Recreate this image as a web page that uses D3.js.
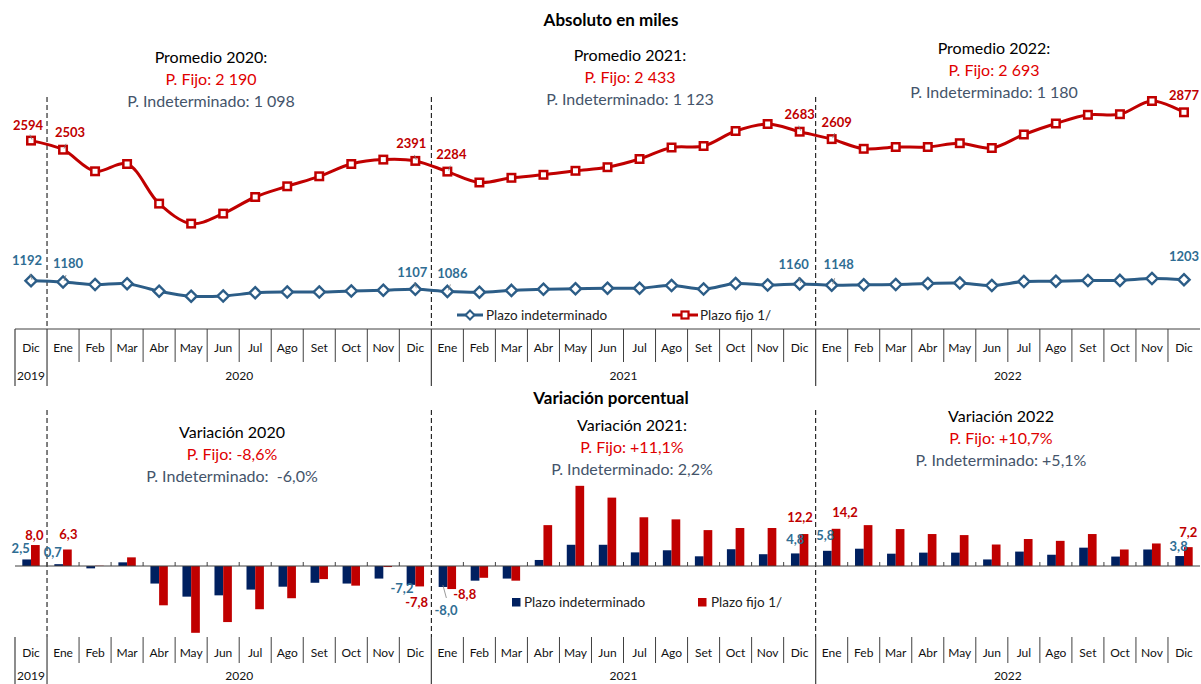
<!DOCTYPE html>
<html><head><meta charset="utf-8">
<script src="https://cdn.jsdelivr.net/npm/d3@7"></script>
<style>
html,body{margin:0;padding:0;background:#fff;}
svg{display:block;font-family:Lato,"Open Sans",sans-serif;}
</style></head>
<body>
<script>
// ---------- DATA ----------
const monthNames = ["Dic","Ene","Feb","Mar","Abr","May","Jun","Jul","Ago","Set","Oct","Nov","Dic","Ene","Feb","Mar","Abr","May","Jun","Jul","Ago","Set","Oct","Nov","Dic","Ene","Feb","Mar","Abr","May","Jun","Jul","Ago","Set","Oct","Nov","Dic"];
const yearLabels = ["2019","2020","2021","2022"];
const yearMonthCounts = [1,12,12,12];
const plazoFijo = [2594,2503,2287,2360,1964,1764,1864,2030,2137,2237,2360,2404,2391,2284,2175,2222,2252,2292,2328,2410,2525,2540,2690,2760,2683,2609,2512,2530,2530,2568,2520,2655,2765,2852,2858,2990,2877];
const plazoIndet = [1192,1180,1155,1163,1088,1038,1040,1072,1080,1080,1090,1098,1107,1086,1078,1096,1108,1112,1118,1118,1145,1110,1165,1150,1160,1148,1152,1155,1165,1170,1145,1185,1188,1195,1196,1215,1203];
const varIndet = [2.5,0.7,-0.9,1.4,-6.7,-11.7,-11.2,-9.0,-7.9,-6.4,-6.7,-4.8,-7.2,-8.0,-5.6,-4.8,2.3,8.1,8.1,5.2,6.0,3.7,6.4,4.5,4.8,5.8,6.6,4.7,5.1,5.1,2.5,5.5,4.3,7.0,3.6,6.3,3.8];
const varFijo = [8.0,6.3,0.1,3.3,-15.0,-25.5,-21.4,-16.5,-12.3,-5.0,-7.5,-0.4,-7.8,-8.8,-4.5,-5.6,15.6,30.6,26.1,18.6,17.8,13.7,14.5,14.5,12.2,14.2,15.6,14.1,12.2,11.8,8.2,10.3,9.6,12.2,6.3,8.6,7.2];
const labeledIdx = [0,1,12,13,24,25,36];
const topTitle = "Absoluto en miles";
const bottomTitle = "Variación porcentual";
const promedioTitles = ["Promedio 2020:","Promedio 2021:","Promedio 2022:"];
const promedioFijo = ["P. Fijo: 2 190","P. Fijo: 2 433","P. Fijo: 2 693"];
const promedioIndet = ["P. Indeterminado: 1 098","P. Indeterminado: 1 123","P. Indeterminado: 1 180"];
const variacionTitles = ["Variación 2020","Variación 2021:","Variación 2022"];
const variacionFijo = ["P. Fijo: -8,6%","P. Fijo: +11,1%","P. Fijo: +10,7%"];
const variacionIndet = ["P. Indeterminado:  -6,0%","P. Indeterminado: 2,2%","P. Indeterminado: +5,1%"];
const seriesNames = ["Plazo indeterminado","Plazo fijo 1/"];

// ---------- STYLE ----------
const RED="#C00000", BLUE_LINE="#2C5D87", NAVY="#002060", BLUE_LBL="#2F6D93", SLATE="#44546A", BRIGHT_RED="#E00000";

const W=1201,H=684;
const svg=d3.select("body").append("svg").attr("width",W).attr("height",H);

const keys=d3.range(monthNames.length);
const x=d3.scaleBand().domain(keys).range([15,1200]).padding(0);
const cx=i=>x(i)+x.bandwidth()/2;
const yearStarts=[]; {let s=0; yearMonthCounts.forEach(c=>{yearStarts.push(s); s+=c;});}
const boundaryIdx=yearStarts.slice(1); // Ene indices

// ---------- TOP CHART ----------
const yTop=d3.scaleLinear().domain([0,3000]).range([400,100]);

svg.append("text").attr("x",611).attr("y",20).attr("dy","0.35em").attr("text-anchor","middle")
  .attr("font-size",17).attr("font-weight","bold").attr("fill","#000").text(topTitle);

const topBlockX=[211,630,994], topBlockY=[57,55,48];
promedioTitles.forEach((t,k)=>{
  const g=svg.append("g").attr("text-anchor","middle").attr("font-size",16);
  g.append("text").attr("x",topBlockX[k]).attr("y",topBlockY[k]).attr("dy","0.35em").attr("fill","#000").text(t);
  g.append("text").attr("x",topBlockX[k]).attr("y",topBlockY[k]+22).attr("dy","0.35em").attr("fill",BRIGHT_RED).text(promedioFijo[k]);
  g.append("text").attr("x",topBlockX[k]).attr("y",topBlockY[k]+44).attr("dy","0.35em").attr("fill",SLATE).text(promedioIndet[k]);
});

// dashed separators
boundaryIdx.forEach(i=>{
  svg.append("line").attr("x1",x(i)).attr("x2",x(i)).attr("y1",97).attr("y2",329)
    .attr("stroke","#000").attr("stroke-width",1).attr("stroke-dasharray","5,3");
});

const curve=d3.curveCatmullRom.alpha(0.5);
const lineTop=d3.line().x((d,i)=>cx(i)).y(d=>yTop(d)).curve(curve);
svg.append("path").datum(plazoIndet).attr("d",lineTop).attr("fill","none").attr("stroke",BLUE_LINE).attr("stroke-width",3);
svg.append("path").datum(plazoFijo).attr("d",lineTop).attr("fill","none").attr("stroke",RED).attr("stroke-width",3);

const dia=5.6;
svg.append("g").selectAll("path").data(plazoIndet).join("path")
  .attr("d",(d,i)=>{const X=cx(i),Y=yTop(d);return `M${X},${Y-dia}L${X+dia},${Y}L${X},${Y+dia}L${X-dia},${Y}Z`;})
  .attr("fill","#fff").attr("stroke",BLUE_LINE).attr("stroke-width",2.4);
const sq=7.5;
svg.append("g").selectAll("rect").data(plazoFijo).join("rect")
  .attr("x",(d,i)=>cx(i)-sq/2).attr("y",d=>yTop(d)-sq/2).attr("width",sq).attr("height",sq)
  .attr("fill","#fff").attr("stroke",RED).attr("stroke-width",2.5);

// labels top
const redOff={0:[-3,-15],1:[7,-17],12:[-4,-17],13:[4,-17],24:[0,-17],25:[5,-17],36:[0,-17]};
const blueOff={0:[-4,-20],1:[5,-19],12:[-3,-17],13:[5,-18],24:[-6,-20],25:[7,-21],36:[0,-23]};
function leader(x1,y1,x2,y2){svg.append("line").attr("x1",x1).attr("y1",y1).attr("x2",x2).attr("y2",y2).attr("stroke","#7f7f7f").attr("stroke-width",0.8);}
labeledIdx.forEach(i=>{
  const X=cx(i),Yr=yTop(plazoFijo[i]),Yb=yTop(plazoIndet[i]);
  svg.append("text").attr("x",X+redOff[i][0]).attr("y",Yr+redOff[i][1]).attr("dy","0.35em").attr("text-anchor","middle")
    .attr("font-size",13).attr("font-weight","bold").attr("fill",RED).text(plazoFijo[i]);
  svg.append("text").attr("x",X+blueOff[i][0]).attr("y",Yb+blueOff[i][1]).attr("dy","0.35em").attr("text-anchor","middle")
    .attr("font-size",13).attr("font-weight","bold").attr("fill",BLUE_LBL).text(plazoIndet[i]);
  if(i!==36){
    leader(X+(redOff[i][0]>0?3:-1),Yr-6,X+1,Yr-1);
    leader(X+(blueOff[i][0]>0?3:-1),Yb-7,X+1,Yb-1);
  }
});

// top legend
const lgTop=svg.append("g");
lgTop.append("line").attr("x1",457).attr("x2",483).attr("y1",315).attr("y2",315).attr("stroke",BLUE_LINE).attr("stroke-width",3);
lgTop.append("path").attr("d",`M470,${315-4.5}L474.5,315L470,${315+4.5}L465.5,315Z`).attr("fill","#fff").attr("stroke",BLUE_LINE).attr("stroke-width",2);
lgTop.append("text").attr("x",486).attr("y",315).attr("dy","0.35em").attr("font-size",13.5).attr("fill","#222").text(seriesNames[0]);
lgTop.append("line").attr("x1",672).attr("x2",698).attr("y1",315).attr("y2",315).attr("stroke",RED).attr("stroke-width",3);
lgTop.append("rect").attr("x",685-3.5).attr("y",315-3.5).attr("width",7).attr("height",7).attr("fill","#fff").attr("stroke",RED).attr("stroke-width",2.2);
lgTop.append("text").attr("x",700).attr("y",315).attr("dy","0.35em").attr("font-size",13.5).attr("fill","#222").text(seriesNames[1]);

// category table helper
function table(yTopLine,drawTopLine,sepEnd,yearSepEnd,monthY,yearY){
  const g=svg.append("g");
  if(drawTopLine) g.append("line").attr("x1",15).attr("x2",1200).attr("y1",yTopLine).attr("y2",yTopLine).attr("stroke","#404040");
  keys.forEach(i=>{
    const isYear=(i===0)||boundaryIdx.includes(i);
    g.append("line").attr("x1",x(i)).attr("x2",x(i)).attr("y1",yTopLine).attr("y2",isYear?yearSepEnd:sepEnd).attr("stroke","#404040").attr("stroke-width",isYear?1.2:1);
    g.append("text").attr("x",cx(i)).attr("y",monthY).attr("dy","0.35em").attr("text-anchor","middle").attr("font-size",12).attr("fill","#111").text(monthNames[i]);
  });
  yearLabels.forEach((t,k)=>{
    const a=x(yearStarts[k]), b=x(yearStarts[k]+yearMonthCounts[k]-1)+x.bandwidth();
    g.append("text").attr("x",(a+b)/2).attr("y",yearY).attr("dy","0.35em").attr("text-anchor","middle").attr("font-size",12).attr("fill","#111").text(t);
  });
}
table(329,true,362,386,348,376);

// ---------- BOTTOM CHART ----------
const yBot=d3.scaleLinear().domain([-30,35]).range([566+30*2.62,566-35*2.62]);
const sub=d3.scaleBand().domain(["indet","fijo"]).range([0,17.4]);
const subOff=x.bandwidth()/2-8.7;

svg.append("text").attr("x",611).attr("y",398).attr("dy","0.35em").attr("text-anchor","middle")
  .attr("font-size",17).attr("font-weight","bold").attr("fill","#000").text(bottomTitle);

const botBlockX=[232,632,1001], botBlockY=[432,425,416];
variacionTitles.forEach((t,k)=>{
  const g=svg.append("g").attr("text-anchor","middle").attr("font-size",16);
  g.append("text").attr("x",botBlockX[k]).attr("y",botBlockY[k]).attr("dy","0.35em").attr("fill","#000").text(t);
  g.append("text").attr("x",botBlockX[k]).attr("y",botBlockY[k]+22).attr("dy","0.35em").attr("fill",BRIGHT_RED).text(variacionFijo[k]);
  g.append("text").attr("x",botBlockX[k]).attr("y",botBlockY[k]+44).attr("dy","0.35em").attr("fill",SLATE).attr("xml:space","preserve").style("white-space","pre").text(variacionIndet[k]);
});

boundaryIdx.forEach(i=>{
  svg.append("line").attr("x1",x(i)).attr("x2",x(i)).attr("y1",410).attr("y2",637)
    .attr("stroke","#000").attr("stroke-width",1).attr("stroke-dasharray","5,3");
});

const barG=svg.append("g");
barG.selectAll("rect.bi").data(varIndet).join("rect").attr("class","bi")
  .attr("x",(d,i)=>x(i)+subOff+sub("indet")).attr("width",sub.bandwidth())
  .attr("y",d=>Math.min(yBot(d),yBot(0))).attr("height",d=>Math.abs(yBot(d)-yBot(0))).attr("fill",NAVY);
barG.selectAll("rect.bf").data(varFijo).join("rect").attr("class","bf")
  .attr("x",(d,i)=>x(i)+subOff+sub("fijo")).attr("width",sub.bandwidth())
  .attr("y",d=>Math.min(yBot(d),yBot(0))).attr("height",d=>Math.abs(yBot(d)-yBot(0))).attr("fill",RED);

// baseline and ticks
svg.append("line").attr("x1",15).attr("x2",1200).attr("y1",yBot(0)).attr("y2",yBot(0)).attr("stroke","#404040").attr("stroke-width",1.2);
keys.forEach(i=>{ if(i>0) svg.append("line").attr("x1",x(i)).attr("x2",x(i)).attr("y1",yBot(0)-4).attr("y2",yBot(0)).attr("stroke","#404040"); });

const fmt=v=>d3.format(".1f")(v).replace(".",",").replace("−","-");
const bOffI={0:[-6,-11.5],1:[-6,-12],12:[-9,4],13:[3,23],24:[0,-14],25:[-2,-15],36:[-1,-10]};
const bOffF={0:[-1,-10],1:[1,-15.5],12:[-3,16],13:[13,5],24:[-4,-17],25:[9,-16],36:[0,-15]};
labeledIdx.forEach(i=>{
  const xi=x(i)+subOff+sub("indet")+sub.bandwidth()/2, xf=x(i)+subOff+sub("fijo")+sub.bandwidth()/2;
  const yi=yBot(varIndet[i]), yf=yBot(varFijo[i]);
  svg.append("text").attr("x",xi+bOffI[i][0]).attr("y",yi+bOffI[i][1]).attr("dy","0.35em").attr("text-anchor","middle")
    .attr("font-size",13).attr("font-weight","bold").attr("fill",BLUE_LBL).text(fmt(varIndet[i]));
  svg.append("text").attr("x",xf+bOffF[i][0]).attr("y",yf+bOffF[i][1]).attr("dy","0.35em").attr("text-anchor","middle")
    .attr("font-size",13).attr("font-weight","bold").attr("fill",RED).text(fmt(varFijo[i]));
});
leader(cx(13)-4.5,yBot(varIndet[13])-2,cx(13)-1,yBot(varIndet[13])+11);

// bottom legend
const lgB=svg.append("g");
lgB.append("rect").attr("x",512).attr("y",598).attr("width",8.5).attr("height",8.5).attr("fill",NAVY);
lgB.append("text").attr("x",524).attr("y",602).attr("dy","0.35em").attr("font-size",13.5).attr("fill","#222").text(seriesNames[0]);
lgB.append("rect").attr("x",698).attr("y",598).attr("width",8.5).attr("height",8.5).attr("fill",RED);
lgB.append("text").attr("x",711).attr("y",602).attr("dy","0.35em").attr("font-size",13.5).attr("fill","#222").text(seriesNames[1]);

table(637,false,663,684,653,676);
</script>
</body></html>
